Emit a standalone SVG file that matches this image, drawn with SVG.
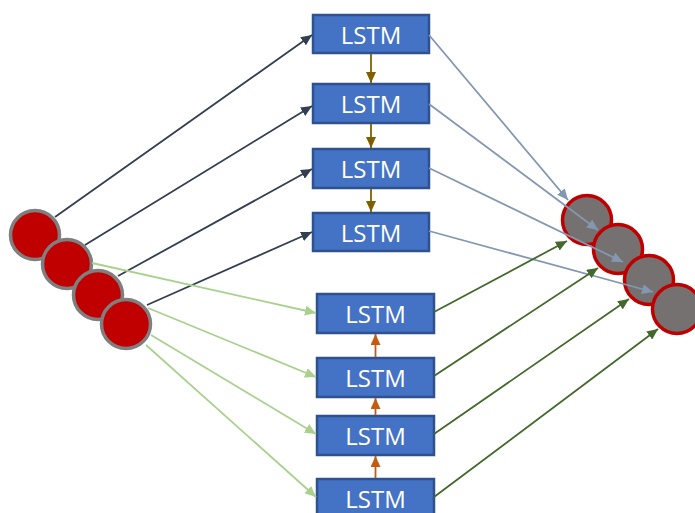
<svg xmlns="http://www.w3.org/2000/svg" width="695" height="513" viewBox="0 0 695 513">
<defs>
<style>
.box{fill:#4472C4;stroke:#2F528F;stroke-width:2.5}
.lbl{font-family:"Open Sans","Liberation Sans",sans-serif;font-size:24px;fill:#fff;text-anchor:middle;dominant-baseline:central}
.inC{fill:#C00000;stroke:#7F7F7F;stroke-width:3.5}
.outC{fill:#767171;stroke:#C00000;stroke-width:3.5}
.c{fill:none}
.navy{stroke:#333F50;stroke-width:1.8;marker-end:url(#mNavy)}
.lg{stroke:#A9D18E;stroke-width:1.8;marker-end:url(#mLg)}
.steel{stroke:#8497B0;stroke-width:1.8;marker-end:url(#mSteel)}
.dg{stroke:#43682B;stroke-width:1.8;marker-end:url(#mDg)}
.br{stroke:#7F6000;stroke-width:1.8;marker-end:url(#mBr)}
.or{stroke:#C55A11;stroke-width:1.8;marker-end:url(#mOr)}
</style>
<marker id="mNavy" markerUnits="userSpaceOnUse" markerWidth="12" markerHeight="10" refX="11" refY="5" orient="auto"><path d="M0,0 L11,5 L0,10 z" fill="#333F50"/></marker>
<marker id="mLg" markerUnits="userSpaceOnUse" markerWidth="12" markerHeight="10" refX="11" refY="5" orient="auto"><path d="M0,0 L11,5 L0,10 z" fill="#A9D18E"/></marker>
<marker id="mSteel" markerUnits="userSpaceOnUse" markerWidth="12" markerHeight="10" refX="11" refY="5" orient="auto"><path d="M0,0 L11,5 L0,10 z" fill="#8497B0"/></marker>
<marker id="mDg" markerUnits="userSpaceOnUse" markerWidth="12" markerHeight="10" refX="11" refY="5" orient="auto"><path d="M0,0 L11,5 L0,10 z" fill="#43682B"/></marker>
<marker id="mBr" markerUnits="userSpaceOnUse" markerWidth="12" markerHeight="10" refX="11" refY="5" orient="auto"><path d="M0,0 L11,5 L0,10 z" fill="#7F6000"/></marker>
<marker id="mOr" markerUnits="userSpaceOnUse" markerWidth="12" markerHeight="10" refX="11" refY="5" orient="auto"><path d="M0,0 L11,5 L0,10 z" fill="#C55A11"/></marker>
</defs>
<rect width="695" height="513" fill="#fff"/>
<g id="in1"><circle class="inC" cx="35" cy="235" r="24.5"/></g>
<g id="in2"><circle class="inC" cx="67" cy="264" r="24.5"/></g>
<g id="in3"><circle class="inC" cx="98" cy="295" r="24.5"/></g>
<g id="in4"><circle class="inC" cx="126" cy="324" r="24.5"/></g>
<g id="out1"><circle class="outC" cx="587" cy="220" r="24.5"/></g>
<g id="out2"><circle class="outC" cx="618" cy="249" r="24.5"/></g>
<g id="out3"><circle class="outC" cx="649" cy="280" r="24.5"/></g>
<g id="out4"><circle class="outC" cx="677" cy="309" r="24.5"/></g>
<g id="lstm1"><rect class="box" x="313" y="15" width="116" height="38"/><text class="lbl" x="371" y="34">LSTM</text></g>
<g id="lstm2"><rect class="box" x="313" y="84" width="116" height="39"/><text class="lbl" x="371" y="103.5">LSTM</text></g>
<g id="lstm3"><rect class="box" x="313" y="149" width="116" height="39"/><text class="lbl" x="371" y="168.5">LSTM</text></g>
<g id="lstm4"><rect class="box" x="313" y="213" width="116" height="38"/><text class="lbl" x="371" y="232">LSTM</text></g>
<g id="lstm5"><rect class="box" x="317" y="294" width="117" height="39"/><text class="lbl" x="375.5" y="313.5">LSTM</text></g>
<g id="lstm6"><rect class="box" x="317" y="358" width="117" height="39"/><text class="lbl" x="375.5" y="377.5">LSTM</text></g>
<g id="lstm7"><rect class="box" x="317" y="416" width="117" height="39"/><text class="lbl" x="375.5" y="435.5">LSTM</text></g>
<g id="lstm8"><rect class="box" x="317" y="479" width="117" height="39"/><text class="lbl" x="375.5" y="498.5">LSTM</text></g>
<g id="connectors" class="c">
<line class="navy c" x1="55" y1="217" x2="312" y2="35"/>
<line class="navy c" x1="85" y1="245" x2="312" y2="106"/>
<line class="navy c" x1="118" y1="276" x2="312" y2="169"/>
<line class="navy c" x1="147" y1="305" x2="312" y2="232"/>
<line class="lg c" x1="92" y1="263" x2="316" y2="313"/>
<line class="lg c" x1="148" y1="308" x2="316" y2="377"/>
<line class="lg c" x1="151" y1="335" x2="316" y2="434"/>
<line class="lg c" x1="146" y1="345" x2="316" y2="497"/>
<line class="steel c" x1="429" y1="35" x2="568" y2="200"/>
<line class="steel c" x1="429" y1="104" x2="598" y2="230"/>
<line class="steel c" x1="429" y1="168" x2="623" y2="262"/>
<line class="steel c" x1="429" y1="231" x2="653" y2="292"/>
<line class="dg c" x1="434" y1="312" x2="567" y2="241"/>
<line class="dg c" x1="434" y1="376" x2="598" y2="268"/>
<line class="dg c" x1="434" y1="434" x2="629" y2="299"/>
<line class="dg c" x1="434" y1="497" x2="658" y2="329"/>
<line class="br c" x1="371" y1="54" x2="371" y2="83"/>
<line class="br c" x1="371" y1="124" x2="371" y2="148"/>
<line class="br c" x1="371" y1="189" x2="371" y2="212"/>
<line class="or c" x1="375.5" y1="357" x2="375.5" y2="334"/>
<line class="or c" x1="375.5" y1="415" x2="375.5" y2="398"/>
<line class="or c" x1="375.5" y1="478" x2="375.5" y2="456"/>
</g>
</svg>
